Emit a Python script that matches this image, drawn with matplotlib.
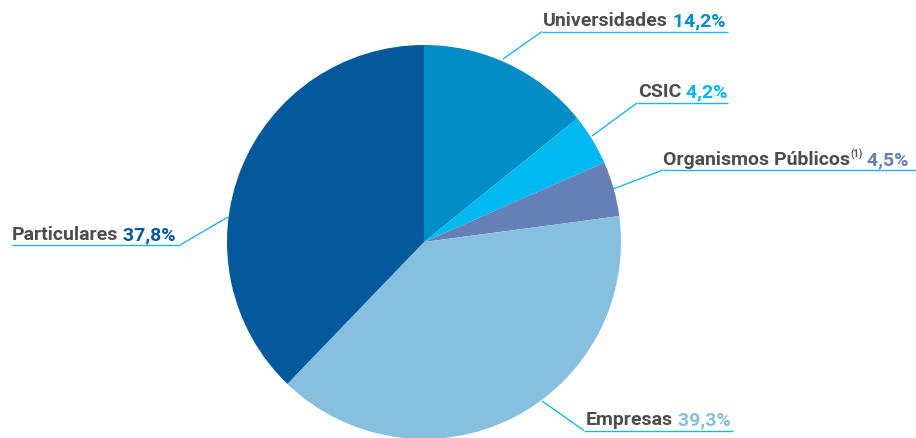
import matplotlib
matplotlib.use("Agg")
import matplotlib.pyplot as plt

plt.rcParams['font.family'] = ['Roboto', 'DejaVu Sans']

categories = ['Universidades', 'CSIC', 'Organismos Públicos', 'Empresas', 'Particulares']
values = [14.2, 4.2, 4.5, 39.3, 37.8]
pct_labels = ['14,2%', '4,2%', '4,5%', '39,3%', '37,8%']
colors = ['#038dc6', '#00b9f0', '#6680b7', '#87bfdf', '#03599c']

W, H = 916, 439
fig = plt.figure(figsize=(W / 100, H / 100), dpi=100)
ax = fig.add_axes([0, 0, 1, 1])

cx, cy, r = 424, H - 243, 197
ax.pie(values, colors=colors, startangle=90, counterclock=False,
       center=(cx, cy), radius=r, frame=True,
       wedgeprops=dict(linewidth=0))
ax.set_xlim(0, W)
ax.set_ylim(0, H)
ax.set_aspect('equal')
ax.axis('off')

# label layout in pixels (top-left origin): text left x, baseline y,
# underline x0, x1, y, and anchor on the pie edge
layout = [
    (543, 26, 542, 728, 32.5, (503, 60)),
    (638, 97, 637, 728, 104, (592, 137)),
    (663, 165, 663, 916, 171, (613, 190)),
    (586, 425, 584, 733, 431.5, (542, 402)),
    (12, 240, 12, 181, 245.5, (228, 218)),
]

line_c = '#1db5e8'
gray = '#4d4d4d'
fs = 14
for i, (tx, ty, ux0, ux1, uy, anchor) in enumerate(layout):
    # leader: anchor -> near end of underline, then underline
    near = ux0 if anchor[0] < ux0 else ux1
    ax.plot([anchor[0], near], [H - anchor[1], H - uy], color=line_c, lw=1, solid_capstyle='butt')
    ax.plot([ux0, ux1], [H - uy, H - uy], color=line_c, lw=1, solid_capstyle='butt')

    name = ax.text(tx, H - ty, categories[i], color=gray, fontsize=fs,
                   fontweight='bold', ha='left', va='baseline')
    prev = name
    if categories[i] == 'Organismos Públicos':
        prev = ax.annotate('(1)', xy=(1, H - ty + 7), xycoords=(name, 'data'),
                           color=gray, fontsize=7, fontweight='bold',
                           ha='left', va='baseline')
    ax.annotate(' ' + pct_labels[i], xy=(1, H - ty), xycoords=(prev, 'data'),
                color=colors[i], fontsize=fs, fontweight='bold',
                ha='left', va='baseline')

fig.savefig('out.png', dpi=100)
